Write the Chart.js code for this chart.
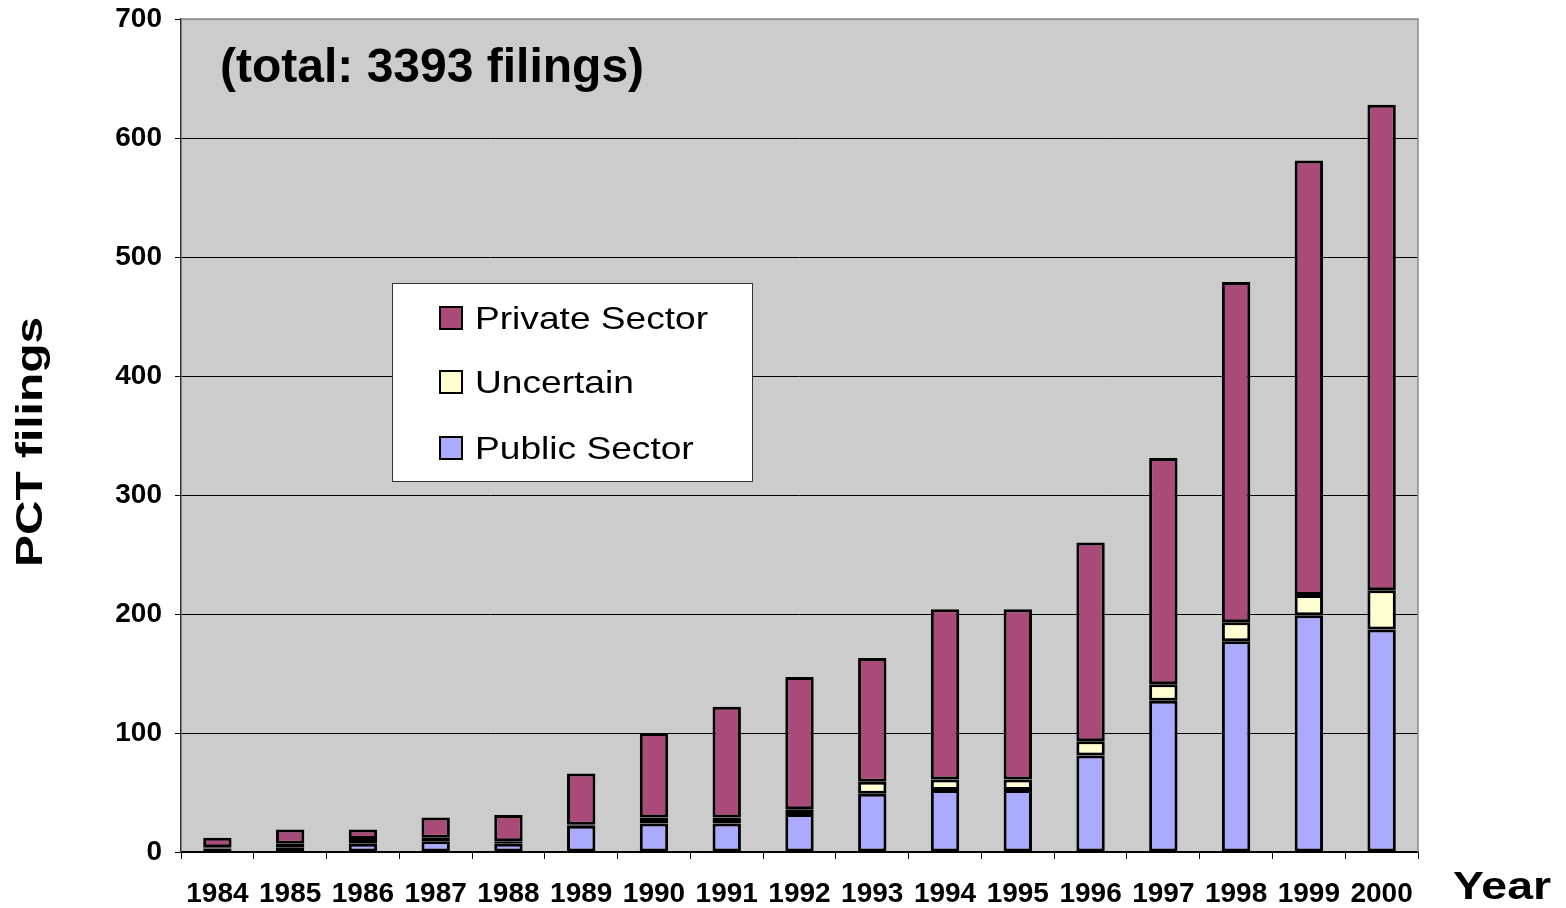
<!DOCTYPE html>
<html>
<head>
<meta charset="utf-8">
<script src="https://cdn.jsdelivr.net/npm/chart.js@4"></script>
<style>
  body { margin: 0; background: #fff; }
  #wrap { width: 1566px; height: 908px; }
</style>
</head>
<body>
<div id="wrap"><canvas id="myChart" width="1566" height="908"></canvas></div>
<script>
'use strict';

let years = ['1984', '1985', '1986', '1987', '1988', '1989', '1990', '1991', '1992',
    '1993', '1994', '1995', '1996', '1997', '1998', '1999', '2000'];
let publicSector = [3, 4, 7, 9, 7, 22, 24, 24, 32, 49, 52, 52, 81, 127, 177, 199, 187];
let uncertain = [1, 3, 4, 3, 2, 1, 5, 5, 4, 10, 9, 9, 12, 14, 16, 17, 33];
let privateSector = [8, 12, 8, 17, 22, 43, 71, 93, 111, 104, 143, 143, 167, 190, 286, 365, 408];
let yMax = 700;
let yStep = 100;
let titleText = '(total: 3393 filings)';

let fontName = '"Liberation Sans", Arial, sans-serif';

// text with a horizontal stretch, the original slide was squashed
let drawText = function (ctx, text, x, y, font, sx, align) {
    ctx.save();
    ctx.translate(x, y);
    ctx.scale(sx, 1);
    ctx.font = font;
    ctx.fillStyle = '#000';
    ctx.textAlign = align || 'left';
    ctx.textBaseline = 'alphabetic';
    ctx.fillText(text, 0, 0);
    ctx.restore();
}

let decorPlugin = {
    id: 'decor',
    beforeDraw: function (chart) {
        let ctx = chart.ctx;
        let a = chart.chartArea;
        ctx.save();
        ctx.fillStyle = '#cccccc';
        ctx.fillRect(a.left, a.top, a.right - a.left, a.bottom - a.top);
        ctx.restore();
    },
    afterDraw: function (chart) {
        let ctx = chart.ctx;
        let a = chart.chartArea;
        ctx.save();
        ctx.strokeStyle = '#8a8a8a';
        ctx.lineWidth = 1.5;
        ctx.beginPath();
        ctx.moveTo(a.left, a.top);
        ctx.lineTo(a.right, a.top);
        ctx.lineTo(a.right, a.bottom);
        ctx.stroke();
        ctx.restore();

        drawText(ctx, titleText, 220, 82, 'bold 48px ' + fontName, 1);

        // legend box
        ctx.save();
        ctx.fillStyle = '#fff';
        ctx.fillRect(392.5, 283.5, 360, 198);
        ctx.strokeStyle = '#333';
        ctx.lineWidth = 1;
        ctx.strokeRect(392.5, 283.5, 360, 198);
        ctx.restore();

        let rows = [
            { ds: chart.data.datasets[2], y: 307 },
            { ds: chart.data.datasets[1], y: 371 },
            { ds: chart.data.datasets[0], y: 437 }
        ];
        rows.forEach(r => {
            ctx.save();
            ctx.fillStyle = r.ds.backgroundColor;
            ctx.fillRect(440, r.y, 22, 22);
            ctx.strokeStyle = '#000';
            ctx.lineWidth = 2;
            ctx.strokeRect(440, r.y, 22, 22);
            ctx.restore();
            drawText(ctx, r.ds.label, 475, r.y + 22, '32px ' + fontName, 1.16);
        });

        // axis titles
        ctx.save();
        ctx.translate(42, 442);
        ctx.rotate(-Math.PI / 2);
        ctx.scale(1.33, 1);
        ctx.font = 'bold 36px ' + fontName;
        ctx.fillStyle = '#000';
        ctx.textAlign = 'center';
        ctx.textBaseline = 'alphabetic';
        ctx.fillText('PCT filings', 0, 0);
        ctx.restore();

        drawText(ctx, 'Year', 1453, 899, 'bold 38px ' + fontName, 1.22);
    }
}

let ctx = document.getElementById('myChart').getContext('2d');
let filingsChart = new Chart(ctx, {
    type: 'bar',
    data: {
        labels: years,
        datasets: [{
            label: 'Public Sector',
            data: publicSector,
            backgroundColor: '#aaaaff',
            borderColor: '#000',
            borderWidth: 3,
            borderSkipped: false
        }, {
            label: 'Uncertain',
            data: uncertain,
            backgroundColor: '#ffffd2',
            borderColor: '#000',
            borderWidth: 3,
            borderSkipped: false
        }, {
            label: 'Private Sector',
            data: privateSector,
            backgroundColor: '#a94a78',
            borderColor: '#000',
            borderWidth: 3,
            borderSkipped: false
        }]
    },
    options: {
        responsive: false,
        animation: false,
        devicePixelRatio: 1,
        barPercentage: 0.39,
        categoryPercentage: 1,
        layout: {
            padding: { left: 0, top: 19, right: 148, bottom: 0 }
        },
        plugins: {
            legend: { display: false },
            tooltip: { enabled: false }
        },
        scales: {
            x: {
                stacked: true,
                afterFit: function (scale) {
                    scale.height = 56;
                    scale.paddingLeft = 0;
                    scale.paddingRight = 0;
                },
                grid: {
                    offset: true,
                    drawOnChartArea: false,
                    drawTicks: true,
                    tickLength: 7,
                    tickColor: '#000',
                    lineWidth: 1
                },
                border: { color: '#000', width: 1.5 },
                ticks: {
                    color: '#000',
                    padding: 18,
                    maxRotation: 0,
                    autoSkip: false,
                    font: { family: fontName, size: 28, weight: 'bold' }
                }
            },
            y: {
                stacked: true,
                min: 0,
                max: yMax,
                afterFit: function (scale) {
                    scale.width = 181;
                    scale.paddingTop = 0;
                    scale.paddingBottom = 0;
                },
                grid: {
                    color: function (c) { return c.tick && c.tick.value === yMax ? '#8a8a8a' : '#000'; },
                    lineWidth: 1,
                    drawTicks: true,
                    tickLength: 6,
                    tickColor: '#000'
                },
                border: { color: '#333', width: 1.5 },
                ticks: {
                    stepSize: yStep,
                    color: '#000',
                    padding: 13,
                    font: { family: fontName, size: 28, weight: 'bold' }
                }
            }
        }
    },
    plugins: [decorPlugin]
});
</script>
</body>
</html>
